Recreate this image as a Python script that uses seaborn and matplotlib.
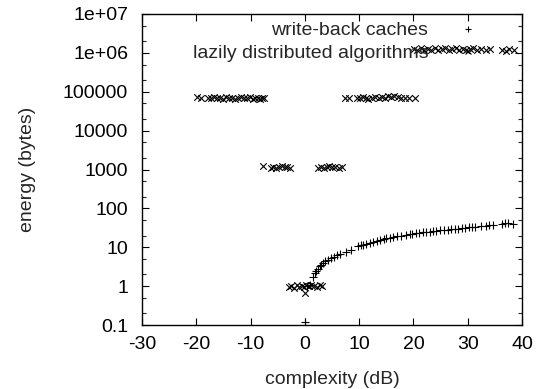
import matplotlib
matplotlib.use("Agg")
import matplotlib.pyplot as plt
import seaborn as sns
import pandas as pd
from matplotlib.lines import Line2D
from matplotlib.ticker import LogLocator, NullFormatter

# write-back caches (+)
wb_x = [0.0, 0.4, 0.9, 1.5, 1.9, 2.1, 2.4, 2.7, 3.0, 3.4, 3.8, 4.3, 4.8, 5.3,
        5.9, 6.5, 7.6, 8.5, 9.8, 10.3, 10.8, 11.3, 12.0, 12.6, 13.3, 13.9,
        14.5, 15.0, 15.6, 16.3, 17.0, 17.8, 18.6, 19.3, 19.8, 20.4, 21.0,
        21.7, 22.3, 23.0, 23.6, 24.2, 24.9, 25.6, 26.3, 27.0, 27.6, 28.3,
        29.0, 29.5, 30.2, 30.8, 31.3, 32.5, 33.3, 34.0, 34.6, 36.4, 36.9,
        37.4, 38.3]
wb_y = [0.12, 1.0, 1.1, 1.7, 2.2, 2.5, 2.8, 3.2, 3.5, 3.9, 4.3, 4.7, 5.2, 5.7,
        6.2, 6.8, 7.6, 8.6, 10.5, 11.2, 11.6, 12.0, 13.0, 13.8, 14.8, 15.6,
        16.4, 17.2, 17.8, 18.4, 19.2, 20.0, 20.8, 21.8, 22.5, 23.0, 23.6,
        24.2, 24.8, 25.3, 26.0, 26.5, 27.0, 27.6, 28.3, 29.0, 29.5, 30.1,
        31.0, 31.8, 32.5, 33.4, 34.0, 35.0, 36.0, 37.0, 37.5, 40.0, 41.5,
        42.5, 40.0]

# lazily distributed algorithms (x)
la_x = [-19.8, -19.1, -17.9, -17.3, -16.8, -16.2, -15.6, -15.1, -14.5, -14.0,
        -13.4, -12.8, -12.3, -11.8, -11.2, -10.6, -10.1, -9.6, -9.1, -8.7,
        -8.3, -7.9, -7.5,
        7.4, 8.2, 9.6, 10.2, 10.7, 11.2, 11.7, 12.3, 13.0, 13.6, 14.2, 14.8,
        15.4, 15.9, 16.5, 17.1, 17.7, 18.4, 19.1, 20.2,
        20.1, 20.7, 21.4, 22.0, 22.6, 23.3, 23.9, 24.5, 25.2, 25.8, 26.5,
        27.1, 27.8, 28.4, 29.1, 29.7, 30.4, 31.0, 31.7, 32.5, 33.4, 34.1,
        36.4, 37.0, 37.6, 38.5,
        -7.7, -6.3, -5.8, -5.3, -4.8, -4.3, -3.7, -3.2, -2.8,
        2.5, 3.0, 3.5, 4.0, 4.5, 5.0, 5.6, 6.2, 6.9,
        -3.0, -2.5, -2.0, -1.5, -1.0, -0.6, -0.2, 0.3, 0.8, 1.2, 1.7, 2.2,
        2.7, 3.1, 0.0]
la_y = [72000, 70000, 71000, 68000, 73000, 69000, 70000, 67000, 72000, 69000,
        71000, 66000, 70000, 73000, 68000, 70000, 72000, 67000, 69000, 71000,
        66000, 70000, 68000,
        70000, 69000, 71000, 68000, 72000, 70000, 67000, 69000, 72000, 70000,
        74000, 68000, 76000, 72000, 78000, 73000, 70000, 71000, 69000, 68000,
        1250000, 1200000, 1300000, 1180000, 1250000, 1220000, 1320000,
        1200000, 1260000, 1300000, 1190000, 1250000, 1350000, 1220000,
        1280000, 1200000, 1240000, 1300000, 1180000, 1250000, 1220000,
        1270000, 1200000, 1150000, 1230000, 1180000,
        1200, 1120, 1180, 1100, 1150, 1200, 1130, 1170, 1110,
        1120, 1180, 1100, 1150, 1200, 1130, 1160, 1110, 1140,
        0.95, 1.0, 0.92, 1.05, 0.97, 1.0, 0.93, 1.08, 0.98, 1.1, 1.0, 0.96,
        1.04, 0.99, 0.66]

wb = pd.DataFrame({"x": wb_x, "y": wb_y})
la = pd.DataFrame({"x": la_x, "y": la_y})

sns.set_style("ticks")
plt.rcParams["font.family"] = ["Liberation Sans", "DejaVu Sans"]
plt.rcParams["axes.unicode_minus"] = False
fs = 14

fig = plt.figure(figsize=(5.46, 3.89), dpi=100)
ax = fig.add_axes([142 / 546, 1 - 325 / 389, 380 / 546, 311 / 389])

sns.scatterplot(data=wb, x="x", y="y", marker="+", color="black", s=30,
                linewidth=0.8, ax=ax, legend=False)
sns.scatterplot(data=la, x="x", y="y", marker="x", color="black", s=22,
                linewidth=0.8, ax=ax, legend=False)

ax.set_yscale("log")
ax.set_xlim(-30, 40)
ax.set_ylim(0.1, 1e7)
ax.set_xticks(range(-30, 41, 10))
yt = [0.1, 1, 10, 100, 1000, 10000, 100000, 1e6, 1e7]
ax.set_yticks(yt)
ax.set_yticklabels(["0.1", "1", "10", "100", "1000", "10000", "100000",
                    "1e+06", "1e+07"])
ax.yaxis.set_minor_locator(LogLocator(base=10, subs=[2, 5], numticks=20))
ax.yaxis.set_minor_formatter(NullFormatter())
ax.tick_params(which="major", direction="in", top=True, right=True,
               length=5, width=0.8, labelsize=fs, colors="black")
ax.tick_params(axis="y", which="major", pad=10)
ax.tick_params(axis="x", which="major", pad=8)
ax.tick_params(which="minor", direction="in", left=True, right=True,
               length=3, width=0.8)
for sp in ax.spines.values():
    sp.set_color("black")
    sp.set_linewidth(1)

ax.set_xlabel("complexity (dB)", fontsize=fs, labelpad=13)
ax.set_ylabel("energy (bytes)", fontsize=fs, labelpad=19)

handles = [Line2D([], [], marker="+", color="black", linestyle="none",
                  markersize=5, markeredgewidth=0.8),
           Line2D([], [], marker="x", color="black", linestyle="none",
                  markersize=4.5, markeredgewidth=0.8)]
ax.legend(handles, ["write-back caches", "lazily distributed algorithms"],
          loc="upper right", bbox_to_anchor=(0.91, 0.975), frameon=False,
          markerfirst=False, fontsize=fs, handlelength=2, handletextpad=1.06,
          borderaxespad=0, borderpad=0, labelspacing=0.25)

plt.savefig("out.png", dpi=100)
plt.close()
